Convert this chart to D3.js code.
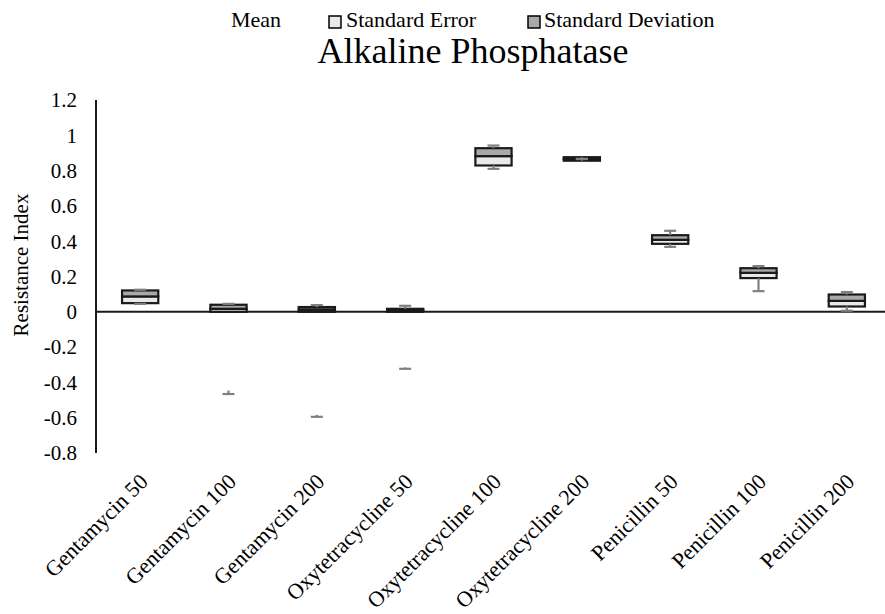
<!DOCTYPE html>
<html>
<head>
<meta charset="utf-8">
<script src="https://cdn.jsdelivr.net/npm/d3@7"></script>
<style>
  body { margin: 0; background: #fff; }
  text { font-family: "Liberation Serif", "Times New Roman", serif; fill: #000; }
</style>
</head>
<body>
<svg id="chart" width="885" height="614"></svg>
<script>
// categories and values
const categories = ["Gentamycin 50", "Gentamycin 100", "Gentamycin 200", "Oxytetracycline 50",
    "Oxytetracycline 100", "Oxytetracycline 200", "Penicillin 50", "Penicillin 100", "Penicillin 200"];
// box bottom, middle (mean) line and box top
const boxLow  = [0.049, 0.000, 0.000, 0.000, 0.829, 0.856, 0.385, 0.191, 0.030];
const boxMid  = [0.087, 0.017, 0.013, 0.008, 0.882, 0.866, 0.408, 0.221, 0.062];
const boxHigh = [0.121, 0.040, 0.027, 0.017, 0.927, 0.876, 0.434, 0.247, 0.098];
// whisker ends
const whiskerLow  = [0.045, null, null, null, 0.810, 0.866, 0.368, 0.117, 0.006];
const whiskerHigh = [0.125, 0.045, 0.038, 0.034, 0.942, 0.866, 0.459, 0.259, 0.112];
// detached error bar marks below zero
const strayCap = [null, -0.466, -0.595, -0.323, null, null, null, null, null];
const strayTop = [null, -0.446, -0.584, -0.315, null, null, null, null, null];
const yTicks = [1.2, 1, 0.8, 0.6, 0.4, 0.2, 0, -0.2, -0.4, -0.6, -0.8];

const lightFill = "#e9e9e9";
const darkFill = "#a9a9a9";
const errColor = "#808080";

const svg = d3.select("#chart");

const x = d3.scaleBand().domain(categories).range([96, 891]).padding(0);
const y = d3.scaleLinear().domain([-0.8, 1.2]).range([453, 100]);
const boxW = x.bandwidth() * 0.41;
const capW = 12;

// title
svg.append("text")
    .attr("x", 473).attr("y", 63)
    .attr("text-anchor", "middle")
    .style("font-size", "36px")
    .text("Alkaline Phosphatase");

// legend
const legend = svg.append("g").style("font-size", "22px");
legend.append("text").attr("x", 231).attr("y", 27).text("Mean");
legend.append("rect").attr("x", 329).attr("y", 16).attr("width", 12).attr("height", 12)
    .attr("fill", lightFill).attr("stroke", "#000").attr("stroke-width", 1.5);
legend.append("text").attr("x", 346).attr("y", 27).text("Standard Error");
legend.append("rect").attr("x", 528).attr("y", 16).attr("width", 12).attr("height", 12)
    .attr("fill", darkFill).attr("stroke", "#000").attr("stroke-width", 1.5);
legend.append("text").attr("x", 544).attr("y", 27).text("Standard Deviation");

// y axis labels
svg.append("g").selectAll("text")
    .data(yTicks)
    .enter()
    .append("text")
    .attr("x", 77)
    .attr("y", d => y(d))
    .attr("dy", "0.35em")
    .attr("text-anchor", "end")
    .style("font-size", "21px")
    .text(d => String(d));

svg.append("text")
    .attr("transform", "translate(28," + 265 + ") rotate(-90)")
    .attr("text-anchor", "middle")
    .style("font-size", "21px")
    .text("Resistance Index");

// axis lines
svg.append("line")
    .attr("x1", 96).attr("x2", 96).attr("y1", y(1.2)).attr("y2", y(-0.8))
    .attr("stroke", "#1a1a1a").attr("stroke-width", 2);
svg.append("line")
    .attr("x1", 96).attr("x2", 885).attr("y1", y(0)).attr("y2", y(0))
    .attr("stroke", "#1a1a1a").attr("stroke-width", 2);

// category labels
svg.append("g").selectAll("text")
    .data(categories)
    .enter()
    .append("text")
    .attr("transform", d => "translate(" + (x(d) + x.bandwidth() / 2 + 9) + ",483) rotate(-45)")
    .attr("text-anchor", "end")
    .style("font-size", "22px")
    .text(d => d);

const rows = categories.map((c, i) => ({
    name: c, lo: boxLow[i], mid: boxMid[i], hi: boxHigh[i],
    wl: whiskerLow[i], wh: whiskerHigh[i], sc: strayCap[i], st: strayTop[i]
}));
const cx = d => x(d.name) + x.bandwidth() / 2;

// error bars
const err = svg.append("g").attr("stroke", errColor).attr("stroke-width", 2.2);
rows.forEach(d => {
    if (d.wh !== null) {
        err.append("line").attr("x1", cx(d)).attr("x2", cx(d)).attr("y1", y(d.hi)).attr("y2", y(d.wh));
        err.append("line").attr("x1", cx(d) - capW / 2).attr("x2", cx(d) + capW / 2).attr("y1", y(d.wh)).attr("y2", y(d.wh));
    }
    if (d.wl !== null) {
        err.append("line").attr("x1", cx(d)).attr("x2", cx(d)).attr("y1", y(d.lo)).attr("y2", y(d.wl));
        err.append("line").attr("x1", cx(d) - capW / 2).attr("x2", cx(d) + capW / 2).attr("y1", y(d.wl)).attr("y2", y(d.wl));
    }
    if (d.sc !== null) {
        err.append("line").attr("x1", cx(d)).attr("x2", cx(d)).attr("y1", y(d.st)).attr("y2", y(d.sc));
        err.append("line").attr("x1", cx(d) - capW / 2).attr("x2", cx(d) + capW / 2).attr("y1", y(d.sc)).attr("y2", y(d.sc));
    }
});

// boxes: lower segment (standard error), upper segment (standard deviation)
const boxes = svg.append("g").selectAll("g").data(rows).enter().append("g");
boxes.append("rect")
    .attr("x", d => cx(d) - boxW / 2)
    .attr("width", boxW)
    .attr("y", d => y(d.mid))
    .attr("height", d => y(d.lo) - y(d.mid))
    .attr("fill", lightFill)
    .attr("stroke", "#1a1a1a").attr("stroke-width", 2.2);
boxes.append("rect")
    .attr("x", d => cx(d) - boxW / 2)
    .attr("width", boxW)
    .attr("y", d => y(d.hi))
    .attr("height", d => y(d.mid) - y(d.hi))
    .attr("fill", darkFill)
    .attr("stroke", "#1a1a1a").attr("stroke-width", 2.2);

// error bars show through the thin box of Oxytetracycline 200
err.raise();
</script>
</body>
</html>
